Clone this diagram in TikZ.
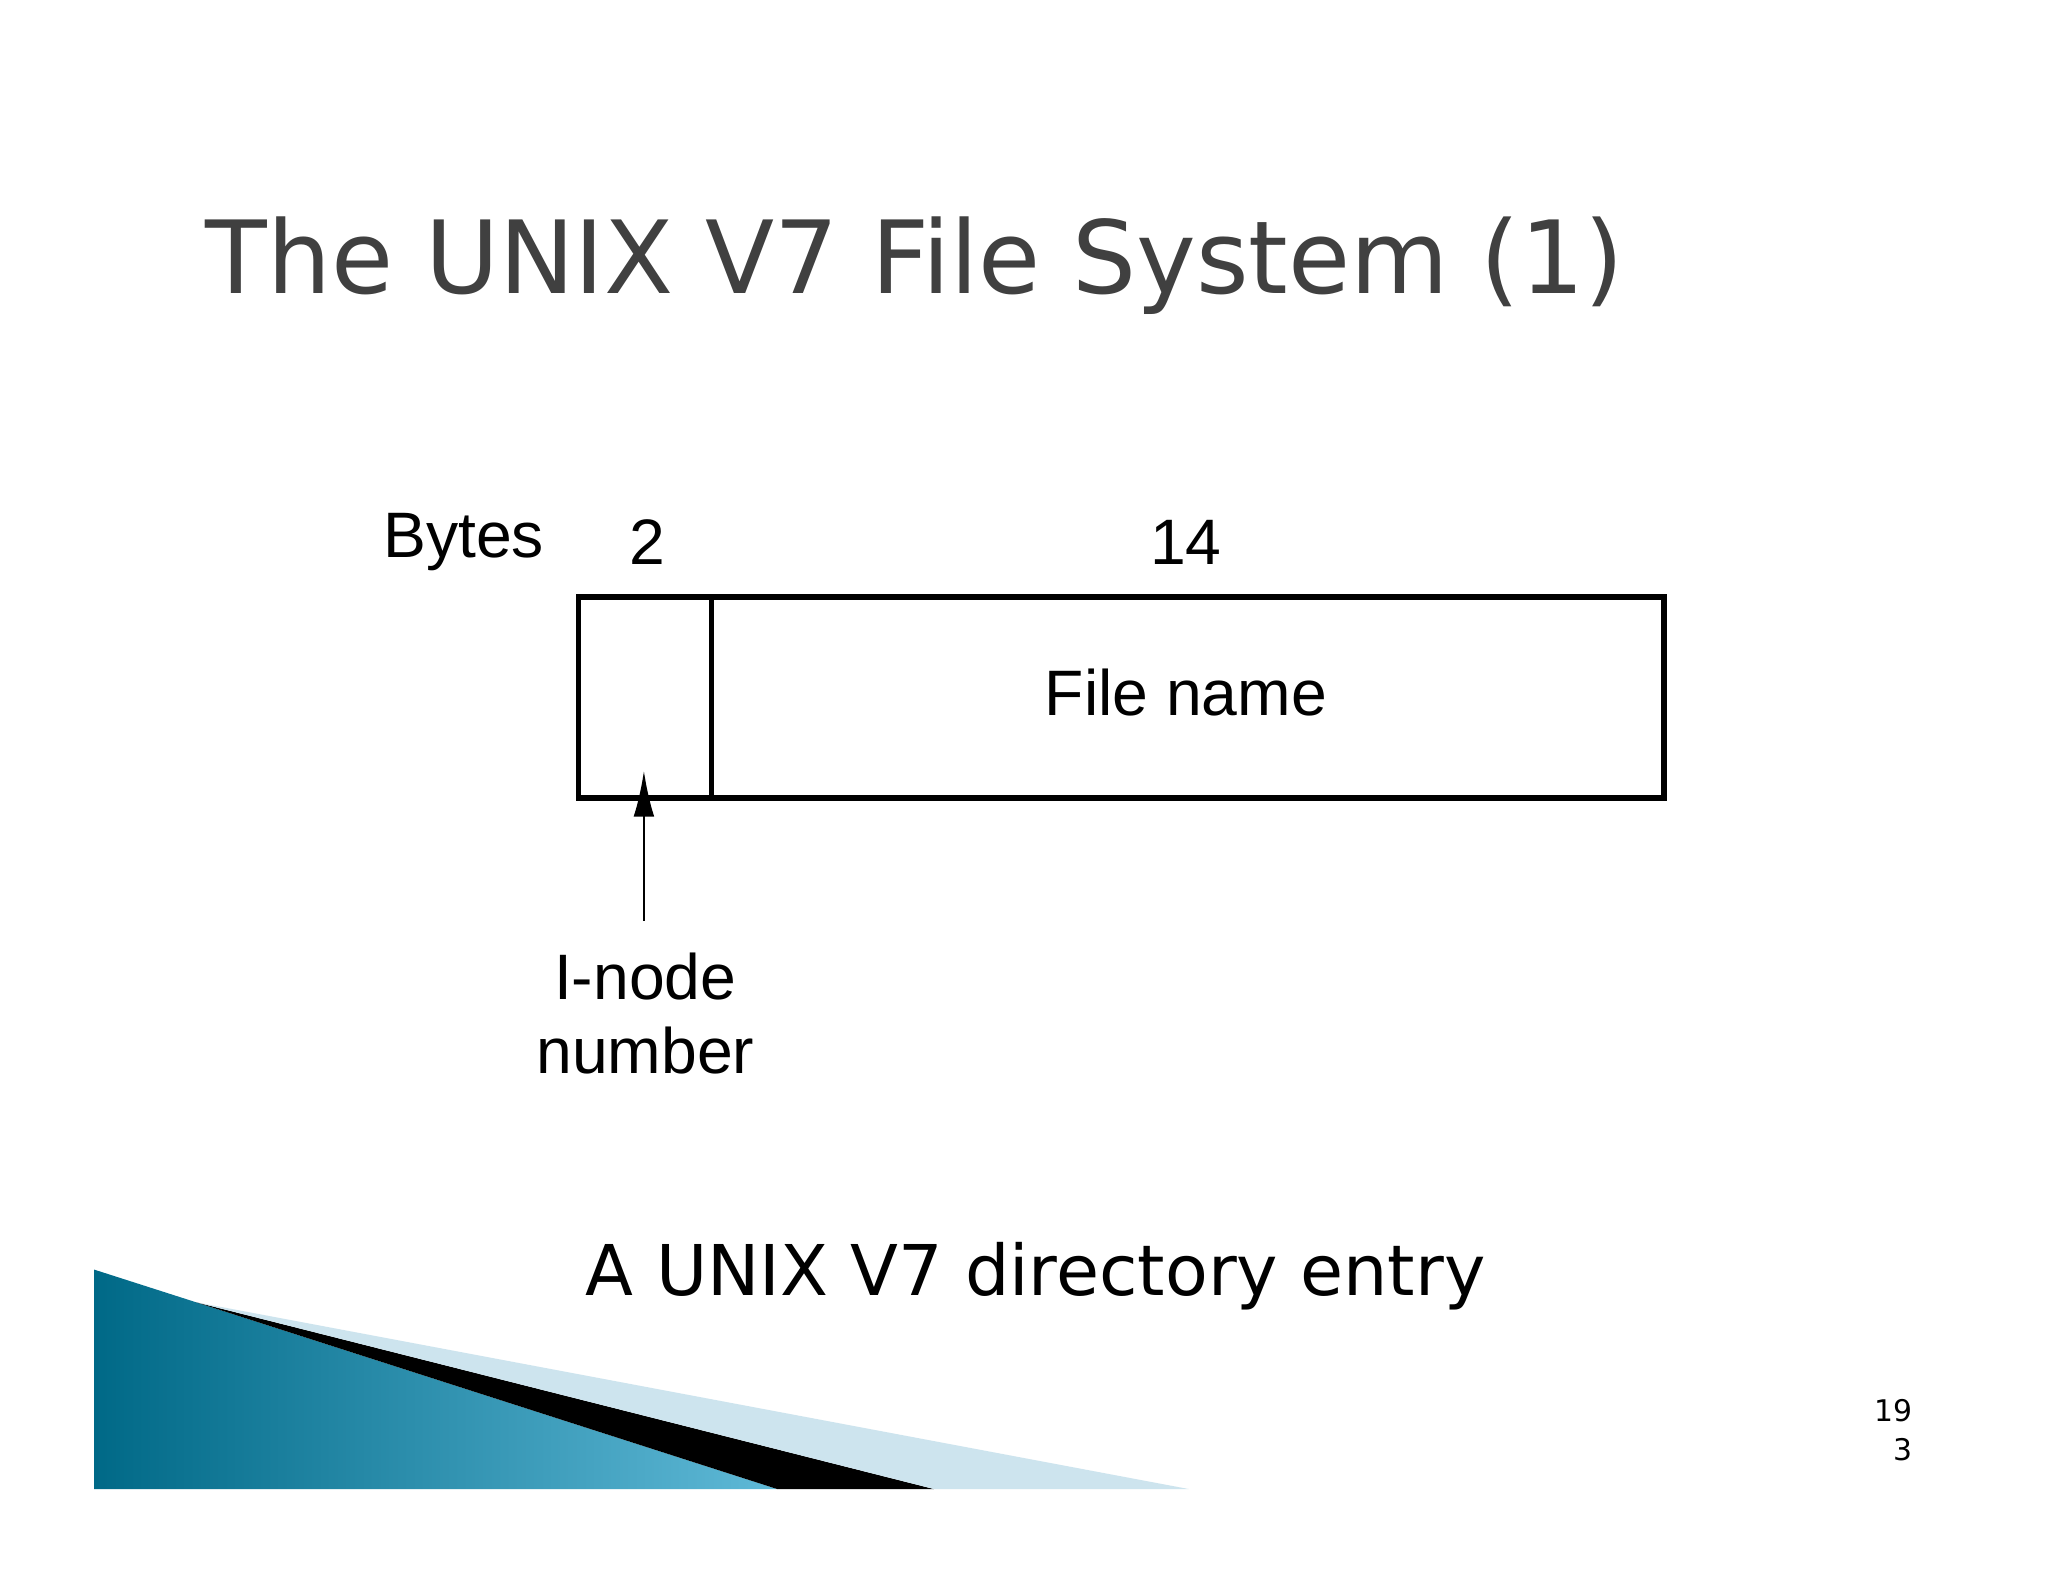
\documentclass[tikz,border=0pt]{standalone}
\usepackage{fontspec}
\usetikzlibrary{arrows.meta}
\setmainfont{DejaVu Sans}
\newfontfamily\helv{Liberation Sans}
\definecolor{tealdark}{RGB}{0,105,135}
\definecolor{teallight}{RGB}{95,185,215}
\definecolor{paleblue}{RGB}{205,228,238}
\begin{document}
\begin{tikzpicture}[x=0.02cm,y=-0.02cm,
  lab/.style={font=\helv\fontsize{28}{32}\selectfont, inner sep=0pt},
  box/.style={draw, line width=2.3pt}]
\useasboundingbox (0,0) rectangle (1568,1211);
\fill[white] (0,0) rectangle (1568,1211);
% decoration
\shade[left color=tealdark, right color=teallight]
  (72,972) -- (150,997) -- (595,1140) -- (72,1140) -- cycle;
\fill[black] (150,997) -- (715,1140) -- (595,1140) -- cycle;
\fill[paleblue] (150,997) -- (910,1140) -- (715,1140) -- cycle;
% title
\node[anchor=base west, inner sep=0pt, text=black!75, font=\fontsize{44}{50}\selectfont] (title) at (157,225) {The UNIX V7 File System (1)};
% box
\node[box, minimum width=831*0.02cm, minimum height=154*0.02cm, anchor=north west, inner sep=0pt] (entry) at (441,455) {};
\coordinate (dt) at (545,455);
\coordinate (db) at (545,609);
\draw[line width=2.3pt] (dt) -- (db);
\node[lab] (bytes) at (355,415) {Bytes};
\node[lab] (two) at (496,415) {2};
\node[lab] (fourteen) at (908,415) {14};
\node[lab] (fname) at (908,530) {File name};
\node[lab, align=center, font=\helv\fontsize{28}{32}\selectfont] (inode) at (494,776) {I-node\\number};
\coordinate (tip) at (493,590);
\draw[line width=1.2pt, -{Latex[length=20pt,width=9pt]}] (493,705) -- (tip);
\node[inner sep=0pt, font=\fontsize{30.5}{36}\selectfont] (cap) at (793,977) {A UNIX V7 directory entry};
\node[inner sep=0pt, align=right, font=\fontsize{13}{17}\selectfont] (pg) at (1450,1095) {19\\3};
\end{tikzpicture}
\end{document}
